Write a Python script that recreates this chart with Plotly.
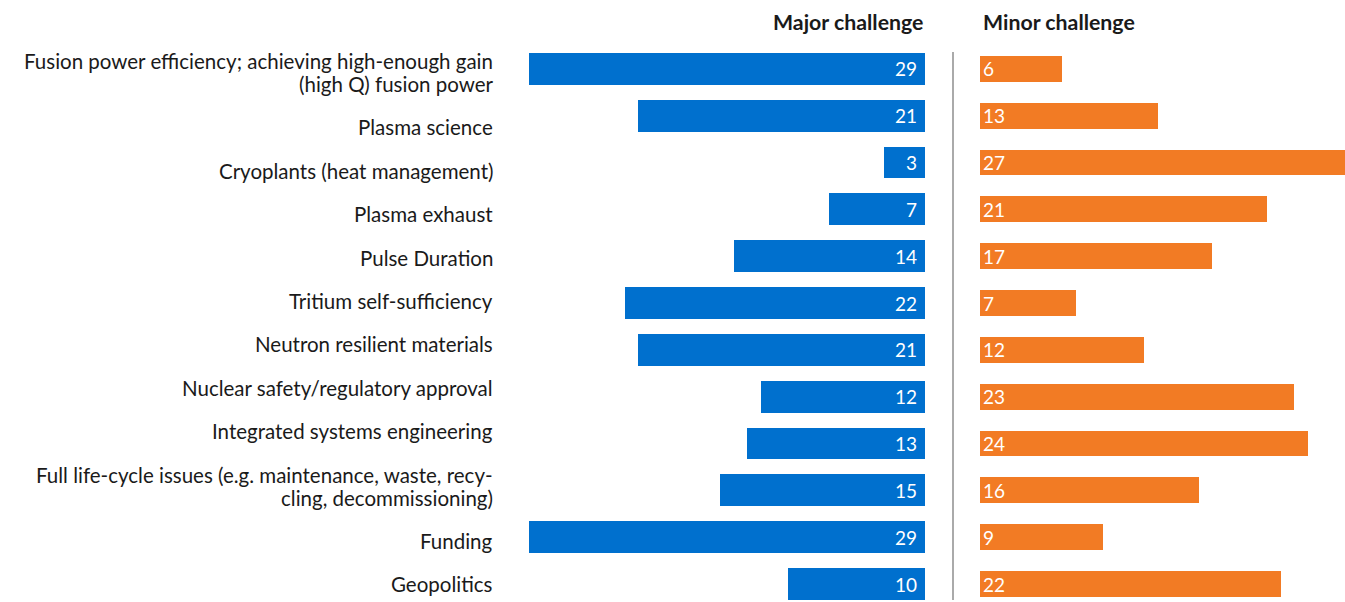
import plotly.graph_objects as go

categories = [
    "Fusion power efficiency; achieving high-enough gain<br>(high Q) fusion power",
    "Plasma science",
    "Cryoplants (heat management)",
    "Plasma exhaust",
    "Pulse Duration",
    "Tritium self-sufficiency",
    "Neutron resilient materials",
    "Nuclear safety/regulatory approval",
    "Integrated systems engineering",
    "Full life-cycle issues (e.g. maintenance, waste, recy-<br>cling, decommissioning)",
    "Funding",
    "Geopolitics",
]
major = [29, 21, 3, 7, 14, 22, 21, 12, 13, 15, 29, 10]
minor = [6, 13, 27, 21, 17, 7, 12, 23, 24, 16, 9, 22]
headers = ["Major challenge", "Minor challenge"]

W, H = 1345, 602
BLUE = "#0070CE"
ORANGE = "#F27B24"
FONT = "Lato"

idx = list(range(len(categories)))

fig = go.Figure()
fig.add_trace(go.Bar(
    y=idx, x=major, orientation="h", xaxis="x", yaxis="y",
    marker=dict(color=BLUE, line=dict(width=0)), width=0.68,
    text=[f"{v}\u00a0" for v in major], textposition="inside", textangle=0,
    insidetextanchor="start", constraintext="none",
    textfont=dict(color="white", size=19, family=FONT),
    hoverinfo="skip", showlegend=False,
))
fig.add_trace(go.Bar(
    y=idx, x=minor, orientation="h", xaxis="x2", yaxis="y",
    marker=dict(color=ORANGE, line=dict(width=0)), width=0.55,
    text=[str(v) for v in minor], textposition="inside", textangle=0,
    insidetextanchor="start", constraintext="none",
    textfont=dict(color="white", size=19, family=FONT),
    hoverinfo="skip", showlegend=False,
))

row0, pitch = 68.8, 46.84
fig.update_layout(
    width=W, height=H, autosize=False,
    margin=dict(l=0, r=0, t=0, b=0),
    paper_bgcolor="white", plot_bgcolor="white",
    font=dict(family=FONT, color="#1a1a1a"),
    xaxis=dict(domain=[529 / W, 925 / W], range=[29, 0], visible=False, fixedrange=True),
    xaxis2=dict(domain=[980 / W, 1], range=[0, 365 / 13.66], visible=False,
                anchor="y", fixedrange=True),
    yaxis=dict(domain=[0, 1], range=[(H - row0) / pitch, -row0 / pitch],
               visible=False, fixedrange=True),
    bargap=0,
)

# category labels stacked as text blocks, one annotation per line
LINE, GAP = 23, 43.4
cursor = 61
anns = []
for lab in categories:
    lines = lab.split("<br>")
    for k, ln in enumerate(lines):
        yc = cursor + k * LINE
        anns.append(dict(text=ln, x=495 / W, y=1 - yc / H, xref="paper", yref="paper",
                         xanchor="right", yanchor="middle", align="right", showarrow=False,
                         font=dict(size=20.5, family=FONT, color="#1a1a1a")))
    cursor += (len(lines) - 1) * LINE + GAP

anns.append(dict(text=f"<b>{headers[0]}</b>", x=925 / W, y=1 - 22 / H, xref="paper", yref="paper",
                 xanchor="right", yanchor="middle", showarrow=False,
                 font=dict(size=21.3, family=FONT, color="#1a1a1a")))
anns.append(dict(text=f"<b>{headers[1]}</b>", x=981 / W, y=1 - 22 / H, xref="paper", yref="paper",
                 xanchor="left", yanchor="middle", showarrow=False,
                 font=dict(size=21.3, family=FONT, color="#1a1a1a")))
fig.update_layout(annotations=anns)

fig.add_shape(type="line", xref="paper", yref="paper",
              x0=953 / W, x1=953 / W, y0=1 - 52 / H, y1=1 - 600 / H,
              line=dict(color="#aaaaaa", width=2))

fig.write_html("out.html", config={"displayModeBar": False, "staticPlot": True},
               post_script="document.body.style.margin='0';document.body.style.overflow='hidden';")
